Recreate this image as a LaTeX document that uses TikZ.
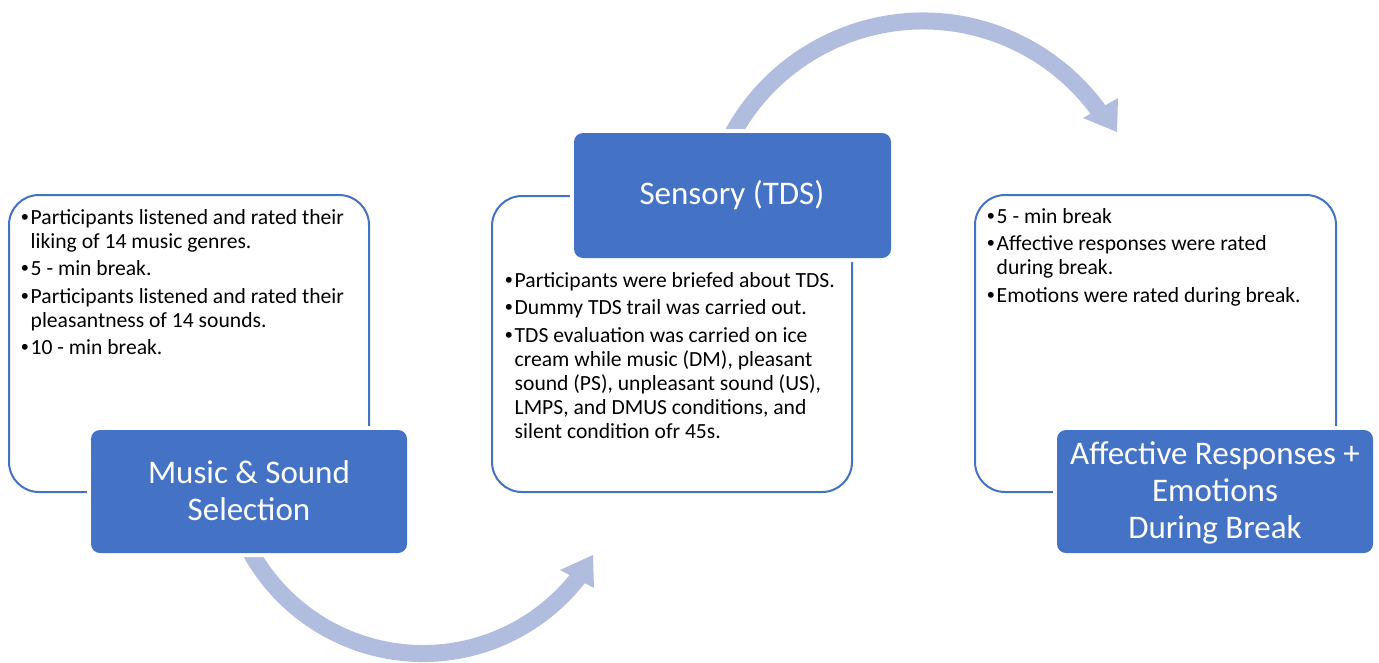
\documentclass[tikz,border=0pt]{standalone}
\usepackage{fontspec}
\setmainfont{Carlito}
\newfontfamily\bulletfont{Liberation Sans}
\definecolor{accent}{RGB}{68,114,196}
\definecolor{flow}{RGB}{176,189,222}
\newcommand{\blt}{\makebox[9.5pt][l]{\bulletfont •}}
\begin{document}
\begin{tikzpicture}[x=1pt,y=-1pt,
  panel/.style={draw=accent, line width=2pt, fill=white, rounded corners=30pt, inner sep=0pt},
  header/.style={fill=accent, rounded corners=9pt, inner sep=0pt,
                 preaction={draw=white, line width=8pt}},
  band/.style={draw=flow, line width=17pt},
  head/.style={fill=flow},
  body/.style={inner sep=0pt, anchor=base west, font=\fontsize{21.6}{24}\selectfont, text=black},
  title/.style={inner sep=0pt, anchor=base, font=\fontsize{33}{37}\selectfont, text=white}]
\useasboundingbox (0,0) rectangle (1379,662);
\fill[white] (0,0) rectangle (1379,662);

% curved flow arrows (drawn first, they pass under the headers)
\coordinate (cA) at (423,456.5);
\coordinate (cB) at (923,238);
\draw[band] ([shift={(156:197)}]cA) arc[start angle=156, end angle=37.5, radius=197];
\coordinate (tipA) at (593,555);
\coordinate (wingA1) at (560,570);
\coordinate (wingA2) at (594,588);
\fill[head] (tipA) -- (wingA1) -- (wingA2) -- cycle;
\draw[band] ([shift={(204:217)}]cB) arc[start angle=204, end angle=325, radius=217];
\coordinate (tipB) at (1117,132);
\coordinate (wingB1) at (1083,118);
\coordinate (wingB2) at (1118,98);
\fill[head] (tipB) -- (wingB1) -- (wingB2) -- cycle;

% white panels
\node[panel, minimum width=360pt, minimum height=297pt] (p1) at (189,343.5) {};
\node[panel, minimum width=360pt, minimum height=296pt] (p2) at (672,344) {};
\node[panel, minimum width=361pt, minimum height=297pt] (p3) at (1155.5,343.5) {};

% headers
\node[header, minimum width=316pt, minimum height=123pt] (h1) at (249,491.5) {};
\node[header, minimum width=317pt, minimum height=125pt] (h2) at (732.5,195.5) {};
\node[header, minimum width=316pt, minimum height=123pt] (h3) at (1215,491.5) {};

\node[title] (t1) at (249,483) {\begin{tabular}[t]{@{}c@{}}Music \& Sound\\ Selection\end{tabular}};
\node[title] (t2) at (732,204) {\begin{tabular}[t]{@{}c@{}}Sensory (TDS)\end{tabular}};
\node[title] (t3) at (1215,464) {\begin{tabular}[t]{@{}c@{}}Affective Responses +\\ Emotions\\ During Break\end{tabular}};

% bullet lists
\node[body] (b1) at (21,224) {\begin{tabular}[t]{@{}l@{}l@{}}
\blt & Participants listened and rated their\\
     & liking of 14 music genres.\\[3.5pt]
\blt & 5 - min break.\\[3.5pt]
\blt & Participants listened and rated their\\
     & pleasantness of 14 sounds.\\[3.5pt]
\blt & 10 - min break.
\end{tabular}};
\node[body] (b2) at (505,287) {\begin{tabular}[t]{@{}l@{}l@{}}
\blt & Participants were briefed about TDS.\\[3.5pt]
\blt & Dummy TDS trail was carried out.\\[3.5pt]
\blt & TDS evaluation was carried on ice\\
     & cream while music (DM), pleasant\\
     & sound (PS), unpleasant sound (US),\\
     & LMPS, and DMUS conditions, and\\
     & silent condition ofr 45s.
\end{tabular}};
\node[body] (b3) at (987,223) {\begin{tabular}[t]{@{}l@{}l@{}}
\blt & 5 - min break\\[3.5pt]
\blt & Affective responses were rated\\
     & during break.\\[3.5pt]
\blt & Emotions were rated during break.
\end{tabular}};
\end{tikzpicture}
\end{document}
